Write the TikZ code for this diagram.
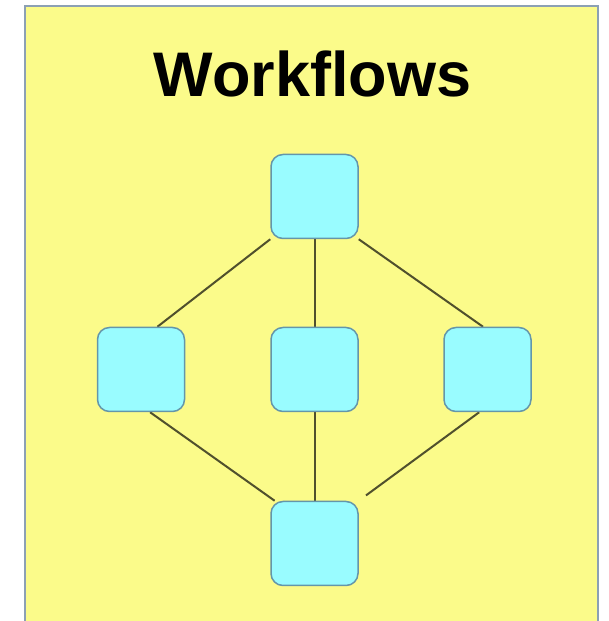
\documentclass[tikz,border=0pt]{standalone}
\usepackage{fontspec}
\setmainfont{Liberation Sans}
\pgfdeclarelayer{nen}
\pgfdeclarelayer{background}
\pgfsetlayers{nen,background,main}
\definecolor{nenvang}{RGB}{251,251,138}
\definecolor{vienkhung}{RGB}{140,160,180}
\definecolor{oxanh}{RGB}{153,252,255}
\definecolor{vienxanh}{RGB}{100,150,170}
\definecolor{duongnoi}{RGB}{80,80,45}
\tikzset{
	buoc/.style={draw=vienxanh, line width=1.5pt, fill=oxanh, rounded corners=12pt, minimum width=87pt, minimum height=84pt, inner sep=0pt},
	noi/.style={draw=duongnoi, line width=2pt}
}
\begin{document}
\begin{tikzpicture}[x=1pt, y=1pt, line join=round, line cap=round]
	\useasboundingbox (0,0) rectangle (608,621);
	% Vẽ nền vàng
	\begin{pgfonlayer}{nen}
		\fill[nenvang, draw=vienkhung, line width=2pt] (24.5,-10) rectangle (598,615);
	\end{pgfonlayer}
	
	% Tiêu đề
	\node[anchor=base, font=\fontsize{63}{70}\selectfont\bfseries] (tieude) at (312.5,524) {Workflows};
	
	% Các ô
	\node[buoc] (tren) at (314.5,424.5) {};
	\node[buoc] (trai) at (141,251.5) {};
	\node[buoc] (giua) at (314.5,251.5) {};
	\node[buoc] (phai) at (487.5,251.5) {};
	\node[buoc] (duoi) at (314.5,77.5) {};
	
	% Các đường nối
	\begin{pgfonlayer}{background}
		\draw[noi] (tren.south west) -- (trai.69);
		\draw[noi] (tren.south) -- (giua.north);
		\draw[noi] (tren.south east) -- (phai.96);
		\draw[noi] (trai.282) -- (duoi.133);
		\draw[noi] (giua.south) -- (duoi.north);
		\draw[noi, shorten >=9pt] (phai.259) -- (duoi.north east);
	\end{pgfonlayer}
\end{tikzpicture}
\end{document}
